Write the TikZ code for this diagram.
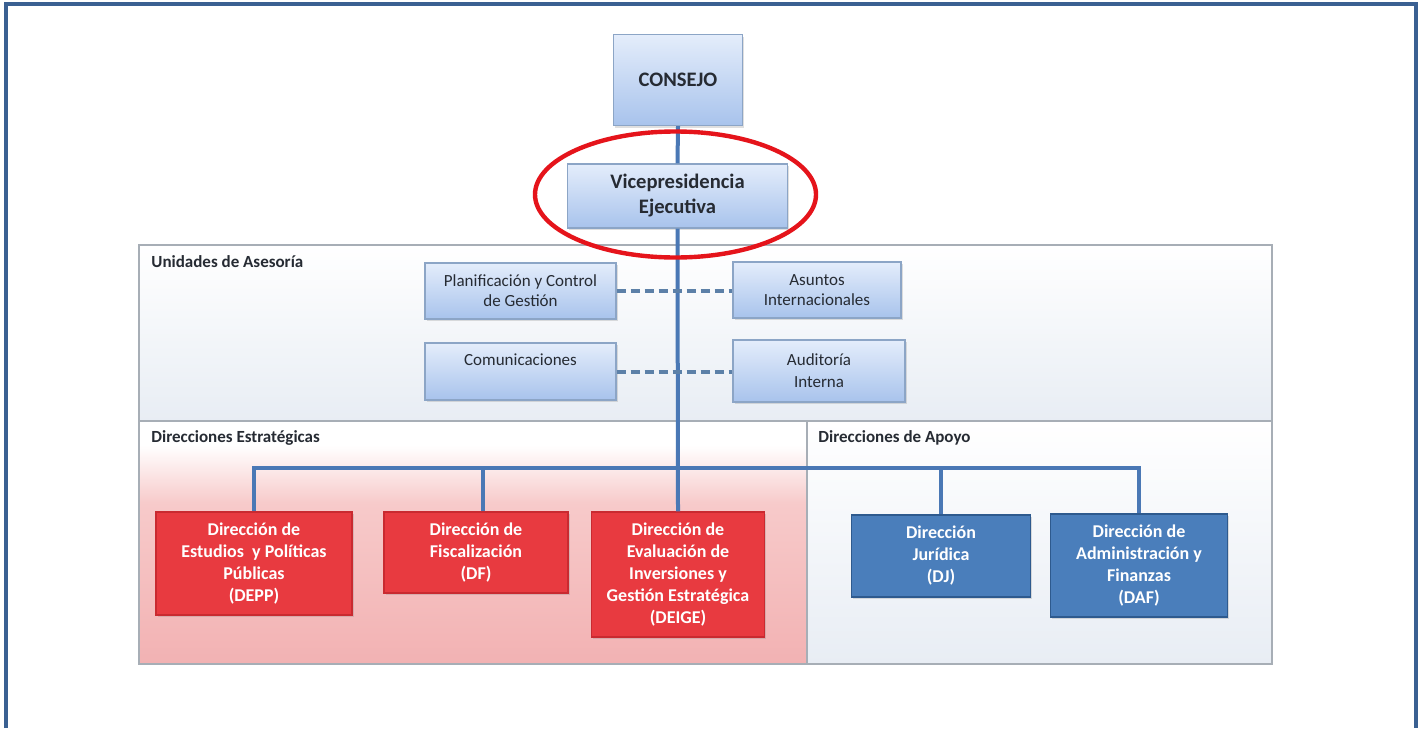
\documentclass[tikz,border=0pt]{standalone}
\usepackage{fontspec}
\setmainfont{Carlito}
\usetikzlibrary{shadows,calc}
\definecolor{frameblue}{HTML}{3A6092}
\definecolor{linkblue}{HTML}{4A78B5}
\definecolor{dashblue}{HTML}{5C80A8}
\definecolor{lbtop}{HTML}{E4EDFB}
\definecolor{lbbot}{HTML}{A8C3EC}
\definecolor{lbdraw}{HTML}{8CA5C6}
\definecolor{redfill}{HTML}{E83A40}
\definecolor{reddraw}{HTML}{C92A30}
\definecolor{bluefill}{HTML}{4A7EBB}
\definecolor{bluedraw}{HTML}{2E5A8E}
\definecolor{panelgray}{HTML}{A7AEB6}
\definecolor{panelbot}{HTML}{E8EDF4}
\definecolor{pinkbot}{HTML}{F2B2B3}
\definecolor{pinkmid}{HTML}{F7CACA}
\definecolor{ovalred}{HTML}{E5141B}
\definecolor{textdark}{HTML}{262B33}
\pgfdeclareverticalshading{pinkpanel}{100bp}{color(0bp)=(pinkbot); color(25bp)=(pinkbot); color(58bp)=(pinkmid); color(70bp)=(white); color(100bp)=(white)}
\begin{document}
\begin{tikzpicture}[x=0.5pt,y=-0.5pt,
  lightbox/.style={draw=lbdraw, line width=0.6pt, top color=lbtop, bottom color=lbbot,
    inner sep=0pt, align=center, text=textdark,
    drop shadow={shadow xshift=0.8pt, shadow yshift=-1.2pt, opacity=0.25},
    font=\fontsize{8.5}{10}\selectfont},
  topbox/.style={lightbox, font=\bfseries\fontsize{10.3}{12.5}\selectfont},
  redbox/.style={draw=reddraw, line width=0.6pt, fill=redfill, inner sep=0pt, align=center,
    text=white, drop shadow={shadow xshift=0.8pt, shadow yshift=-1.2pt, opacity=0.25},
    font=\bfseries\fontsize{9}{11}\selectfont},
  bluebox/.style={redbox, draw=bluedraw, fill=bluefill},
  panel/.style={draw=panelgray, line width=0.8pt},
  paneltitle/.style={anchor=west, inner sep=0pt, text=textdark, font=\bfseries\fontsize{8.5}{10}\selectfont},
  link/.style={draw=linkblue, line width=2pt},
  dashlink/.style={draw=dashblue, line width=2pt, dash pattern=on 4.5pt off 2.5pt},
]
\path[use as bounding box] (0,0) rectangle (1422,728);
\fill[white] (0,0) rectangle (1422,728);
% outer frame
\draw[frameblue, line width=1.6pt] (6,728) -- (6,4) -- (1416,4) -- (1416,728);

% panels
\node[panel, top color=white, bottom color=panelbot, minimum width=566.5pt, minimum height=88pt, inner sep=0pt] (asesoria) at (705.5,333) {};
\node[panel, shading=pinkpanel, minimum width=334pt, minimum height=121.5pt, inner sep=0pt] (estrategicas) at (473,542.5) {};
\node[panel, top color=white, bottom color=panelbot, minimum width=232.5pt, minimum height=121.5pt, inner sep=0pt] (apoyo) at (1039.5,542.5) {};
\node[paneltitle] (t1) at (151,262) {Unidades de Asesoría};
\node[paneltitle] (t2) at (151,438) {Direcciones Estratégicas};
\node[paneltitle] (t3) at (818,438) {Direcciones de Apoyo};

% coordinates for the bus
\coordinate (bus) at (678,468);

% top boxes
\node[topbox, minimum width=64.5pt, minimum height=45.5pt] (consejo) at (678,80) {CONSEJO};
\node[topbox, minimum width=110pt, minimum height=32pt] (vp) at (677.5,196) {Vicepresidencia\\Ejecutiva};

% red and blue boxes
\node[redbox, minimum width=98pt, minimum height=51.5pt] (depp) at (254,563.5) {Dirección de\\Estudios \ y Políticas\\Públicas\\(DEPP)};
\node[redbox, minimum width=92pt, minimum height=40.5pt] (df) at (476,552.5) {Dirección de\\Fiscalización\\(DF)};
\node[redbox, minimum width=86.5pt, minimum height=62.5pt] (deige) at (678,574.5) {Dirección de\\Evaluación de\\Inversiones y\\Gestión Estratégica\\(DEIGE)};
\node[bluebox, minimum width=89.5pt, minimum height=41pt] (dj) at (941,556) {Dirección\\Jurídica\\(DJ)};
\node[bluebox, minimum width=88.5pt, minimum height=51.5pt] (daf) at (1139,565.5) {Dirección de\\Administración y\\Finanzas\\(DAF)};

% connectors (trunk and bus)
\draw[link] (consejo.south) -- (vp.north);
\draw[link] (vp.south) -- (deige.north);
\draw[link] (depp.north) -- (depp.north |- bus) -- (daf.north |- bus) -- (daf.north);
\draw[link] ([xshift=3.5pt]df.north) -- ([xshift=3.5pt]df.north |- bus);
\draw[link] (dj.north) -- (dj.north |- bus);

% advisory units
\node[lightbox, minimum width=95.5pt, minimum height=28pt] (plan) at (520.5,291) {Planificación y Control\\de Gestión};
\node[lightbox, minimum width=95.5pt, minimum height=28.5pt, font=\fontsize{8.5}{11.5}\selectfont] (com) at (520.5,371.5) {Comunicaciones\\\mbox{}};
\node[lightbox, minimum width=84pt, minimum height=28pt] (asun) at (817,290) {Asuntos\\Internacionales};
\node[lightbox, minimum width=86pt, minimum height=31pt, font=\fontsize{8.5}{11}\selectfont] (aud) at (819,371) {Auditoría\\Interna};
\draw[dashlink] (plan.east) -- (plan.east -| asun.west);
\draw[dashlink] (com.east) -- (com.east -| aud.west);

% highlight oval
\draw[ovalred, line width=2.2pt] (675.5,194.5) ellipse [x radius=140.5, y radius=63];
\end{tikzpicture}
\end{document}
